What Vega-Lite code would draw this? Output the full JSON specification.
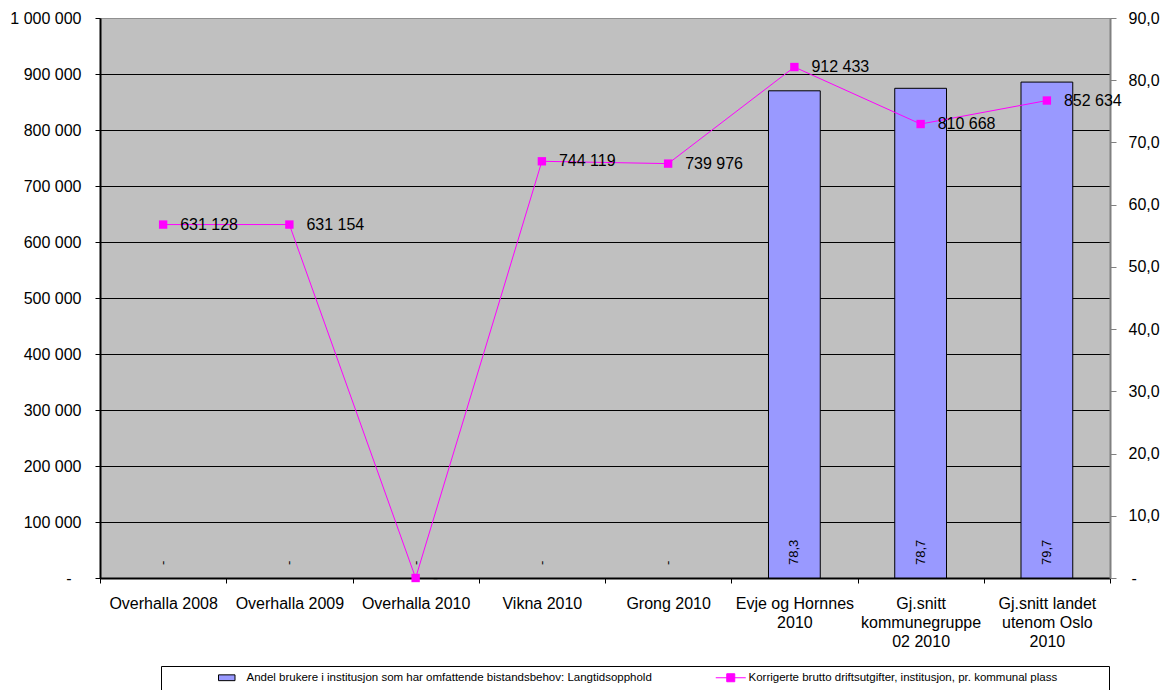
{
  "$schema": "https://vega.github.io/schema/vega-lite/v6.json",
  "width": 1010,
  "height": 560,
  "autosize": {"type": "none"},
  "padding": {"left": 100, "top": 18, "right": 55, "bottom": 112},
  "background": "white",
  "config": {
    "font": "Liberation Sans",
    "locale": {"number": {"decimal": ",", "thousands": " ", "grouping": [3], "currency": ["", ""]}},
    "view": {"fill": "#C0C0C0", "stroke": "#909090", "strokeWidth": 1},
    "axis": {"labelFont": "Liberation Sans", "labelFontSize": 16, "labelColor": "black", "title": null}
  },
  "data": {
    "values": [
      {"category": "Overhalla 2008", "bar": 0, "cost": 631128},
      {"category": "Overhalla 2009", "bar": 0, "cost": 631154},
      {"category": "Overhalla 2010", "bar": 0, "cost": 0},
      {"category": "Vikna 2010", "bar": 0, "cost": 744119},
      {"category": "Grong 2010", "bar": 0, "cost": 739976},
      {"category": "Evje og Hornnes 2010", "bar": 78.3, "cost": 912433},
      {"category": "Gj.snitt kommunegruppe 02 2010", "bar": 78.7, "cost": 810668},
      {"category": "Gj.snitt landet utenom Oslo 2010", "bar": 79.7, "cost": 852634}
    ]
  },
  "encoding": {
    "x": {
      "field": "category",
      "type": "nominal",
      "sort": null,
      "scale": {"paddingInner": 0, "paddingOuter": 0},
      "axis": {
        "title": null,
        "labelAngle": 0,
        "domainColor": "black",
        "domainWidth": 2,
        "tickColor": "black",
        "tickSize": 5,
        "tickBand": "extent",
        "labelPadding": 12,
        "labelLineHeight": 19,
        "labelLimit": 200,
        "grid": false,
        "labelExpr": "datum.value == 'Evje og Hornnes 2010' ? ['Evje og Hornnes', '2010'] : datum.value == 'Gj.snitt kommunegruppe 02 2010' ? ['Gj.snitt', 'kommunegruppe', '02 2010'] : datum.value == 'Gj.snitt landet utenom Oslo 2010' ? ['Gj.snitt landet', 'utenom Oslo', '2010'] : datum.label"
      }
    }
  },
  "layer": [
    {
      "layer": [
        {
          "mark": {"type": "bar", "width": {"band": 0.41}, "stroke": "black", "strokeWidth": 1, "opacity": 1},
          "encoding": {
            "y": {
              "field": "bar",
              "type": "quantitative",
              "scale": {"domain": [0, 90]},
              "axis": {
                "orient": "right",
                "title": null,
                "values": [0, 10, 20, 30, 40, 50, 60, 70, 80, 90],
                "labelExpr": "datum.value == 0 ? '-' : format(datum.value, '.1f')",
                "labelPadding": {"condition": {"test": "datum.value == 0", "value": 15}, "value": 12},
                "domainColor": "#808080",
                "domainWidth": 2,
                "tickColor": "#808080",
                "tickSize": 6,
                "grid": false
              }
            },
            "strokeOpacity": {"condition": {"test": "datum.bar == 0", "value": 0}, "value": 1},
            "fill": {
              "datum": "Andel brukere i institusjon som har omfattende bistandsbehov: Langtidsopphold",
              "scale": {"range": ["#9999FF"]},
              "legend": {
                "orient": "none",
                "legendX": 61,
                "legendY": 648,
                "direction": "horizontal",
                "title": "\u00a0",
                "titleFontSize": 10,
                "titleOrient": "left",
                "titlePadding": 54,
                "strokeColor": "black",
                "fillColor": "white",
                "padding": 6,
                "labelFont": "Liberation Sans",
                "labelFontSize": 11.5,
                "labelColor": "black",
                "labelLimit": 1000,
                "labelOffset": 14,
                "symbolSize": 100,
                "symbolType": "M-1.65,-0.58H1.65V0.58H-1.65Z",
                "symbolStrokeColor": "black",
                "symbolStrokeWidth": 1,
                "symbolOpacity": 1,
                "labelExpr": "pad(datum.label, 218, '\u00a0') + '\u200b'"
              }
            }
          }
        },
        {
          "mark": {"type": "text", "angle": 270, "align": "left", "baseline": "middle", "dx": 13, "fontSize": 13, "color": "black", "font": "Liberation Sans"},
          "encoding": {
            "y": {"datum": 0, "type": "quantitative"},
            "text": {"condition": {"test": "datum.bar == 0", "value": "-"}, "field": "bar", "type": "quantitative", "format": ".1f"}
          }
        }
      ]
    },
    {
      "layer": [
        {
          "mark": {"type": "line", "strokeWidth": 1},
          "encoding": {
            "y": {
              "field": "cost",
              "type": "quantitative",
              "scale": {"domain": [0, 1000000]},
              "axis": {
                "orient": "left",
                "title": null,
                "values": [0, 100000, 200000, 300000, 400000, 500000, 600000, 700000, 800000, 900000, 1000000],
                "labelExpr": "datum.value == 0 ? '-' : format(datum.value, ',')",
                "labelPadding": {"condition": {"test": "datum.value == 0", "value": 24}, "value": 14},
                "domainColor": "black",
                "domainWidth": 2,
                "tickColor": "black",
                "tickSize": 5,
                "grid": true,
                "gridColor": {"condition": {"test": "datum.value == 1000000 || datum.value == 0", "value": "transparent"}, "value": "black"},
                "gridWidth": 1
              }
            },
            "stroke": {
              "datum": "Korrigerte brutto driftsutgifter, institusjon, pr. kommunal plass",
              "scale": {"range": ["#FF00FF"]},
              "legend": {
                "orient": "none",
                "legendX": 619,
                "legendY": 648,
                "direction": "horizontal",
                "title": null,
                "padding": 6,
                "labelFont": "Liberation Sans",
                "labelFontSize": 11.5,
                "labelColor": "black",
                "labelLimit": 1000,
                "labelOffset": 12,
                "symbolSize": 100,
                "symbolType": "M-3,0H3M-0.8,-0.8H0.8V0.8H-0.8Z",
                "symbolFillColor": "#FF00FF",
                "symbolStrokeWidth": 1,
                "symbolOpacity": 1
              }
            }
          }
        },
        {
          "mark": {"type": "point", "shape": "square", "filled": true, "size": 70, "color": "#FF00FF", "opacity": 1},
          "encoding": {
            "y": {"field": "cost", "type": "quantitative"}
          }
        },
        {
          "mark": {"type": "text", "align": "left", "baseline": "middle", "dx": 17, "fontSize": 16, "color": "black", "font": "Liberation Sans"},
          "encoding": {
            "y": {"field": "cost", "type": "quantitative"},
            "text": {"condition": {"test": "datum.cost == 0", "value": "-"}, "field": "cost", "type": "quantitative", "format": ","}
          }
        }
      ]
    }
  ],
  "resolve": {"scale": {"y": "independent"}}
}
